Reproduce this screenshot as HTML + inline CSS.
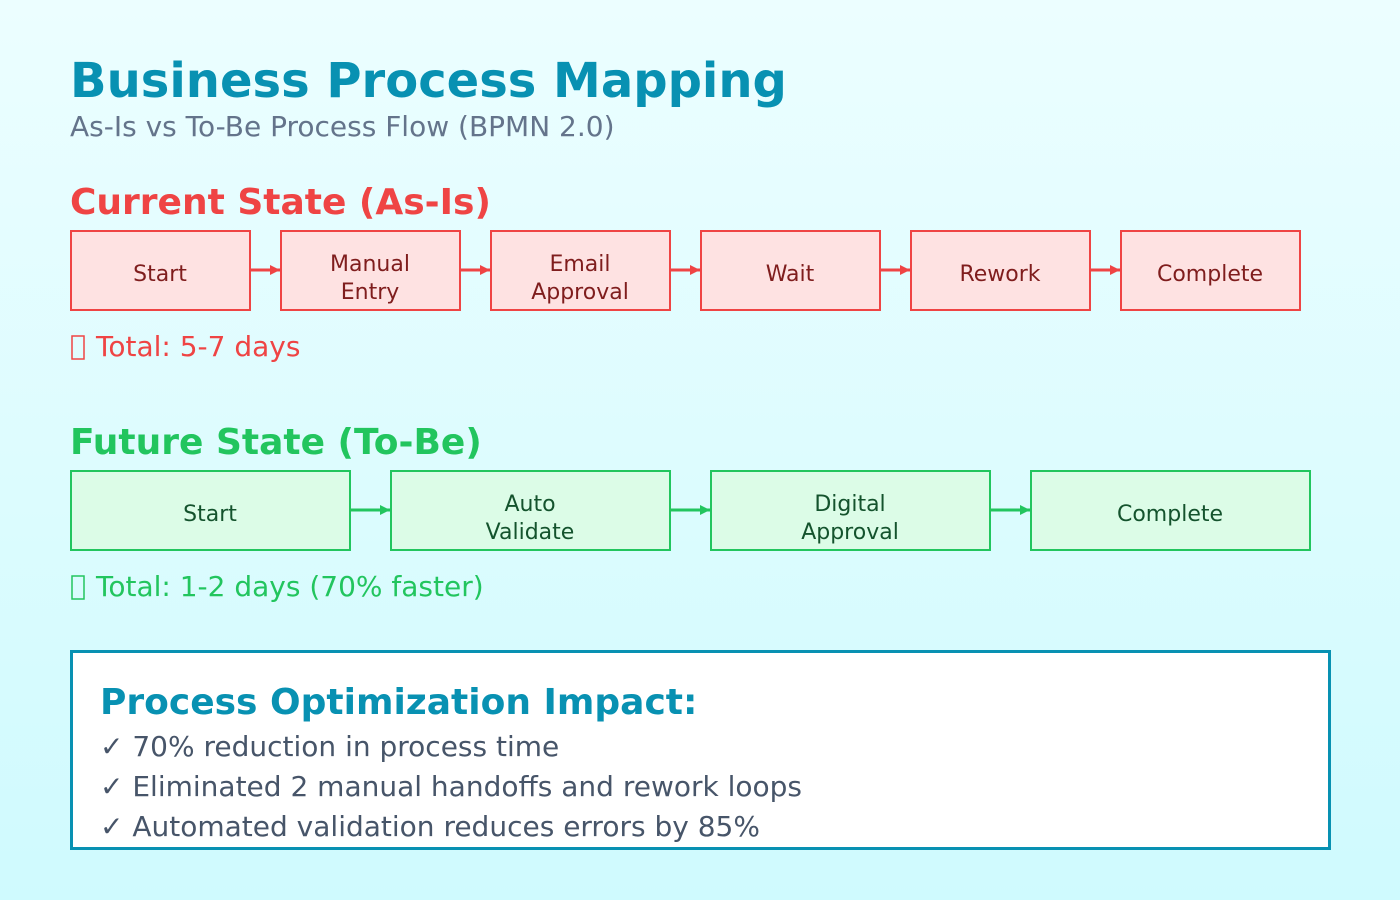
<!DOCTYPE html>
<html><head><meta charset="utf-8"><style>
html,body{margin:0;padding:0;width:1400px;height:900px;overflow:hidden}
svg{display:block}
text{font-family:"DejaVu Sans","Liberation Sans",sans-serif}
</style></head><body>
<svg width="1400" height="900" viewBox="0 0 1400 900" xmlns="http://www.w3.org/2000/svg">
<defs>
<linearGradient id="bg" x1="0" y1="0" x2="0" y2="1">
<stop offset="0" stop-color="#ecfeff"/><stop offset="1" stop-color="#cffafe"/>
</linearGradient>
<marker id="ar" markerWidth="10" markerHeight="10" refX="10" refY="5" orient="auto" markerUnits="userSpaceOnUse"><path d="M0,0 L10,5 L0,10 z" fill="#ef4444"/></marker>
<marker id="ag" markerWidth="10" markerHeight="10" refX="10" refY="5" orient="auto" markerUnits="userSpaceOnUse"><path d="M0,0 L10,5 L0,10 z" fill="#22c55e"/></marker>
</defs>
<rect width="1400" height="900" fill="url(#bg)"/>
<text x="70" y="97" font-size="48" font-weight="bold" fill="#0891b2">Business Process Mapping</text>
<text x="70" y="136" font-size="28" fill="#64748b">As-Is vs To-Be Process Flow (BPMN 2.0)</text>

<text x="70" y="214" font-size="36" font-weight="bold" fill="#ef4444">Current State (As-Is)</text>
<g stroke="#ef4444" stroke-width="2" fill="#fee2e2">
<rect x="71" y="231" width="179" height="79"/>
<rect x="281" y="231" width="179" height="79"/>
<rect x="491" y="231" width="179" height="79"/>
<rect x="701" y="231" width="179" height="79"/>
<rect x="911" y="231" width="179" height="79"/>
<rect x="1121" y="231" width="179" height="79"/>
</g>
<g stroke="#ef4444" stroke-width="3">
<line x1="251" y1="270" x2="280" y2="270" marker-end="url(#ar)"/>
<line x1="461" y1="270" x2="490" y2="270" marker-end="url(#ar)"/>
<line x1="671" y1="270" x2="700" y2="270" marker-end="url(#ar)"/>
<line x1="881" y1="270" x2="910" y2="270" marker-end="url(#ar)"/>
<line x1="1091" y1="270" x2="1120" y2="270" marker-end="url(#ar)"/>
</g>
<g font-size="22" fill="#7f1d1d" text-anchor="middle">
<text x="160" y="281">Start</text>
<text x="370" y="271">Manual</text><text x="370" y="299">Entry</text>
<text x="580" y="271">Email</text><text x="580" y="299">Approval</text>
<text x="790" y="281">Wait</text>
<text x="1000" y="281">Rework</text>
<text x="1210" y="281">Complete</text>
</g>
<rect x="72" y="336" width="12" height="23" fill="none" stroke="#ef4444" stroke-width="1.5"/>
<text x="96" y="356" font-size="28" fill="#ef4444">Total: 5-7 days</text>

<text x="70" y="454" font-size="36" font-weight="bold" fill="#22c55e">Future State (To-Be)</text>
<g stroke="#22c55e" stroke-width="2" fill="#dcfce7">
<rect x="71" y="471" width="279" height="79"/>
<rect x="391" y="471" width="279" height="79"/>
<rect x="711" y="471" width="279" height="79"/>
<rect x="1031" y="471" width="279" height="79"/>
</g>
<g stroke="#22c55e" stroke-width="3">
<line x1="351" y1="510" x2="390" y2="510" marker-end="url(#ag)"/>
<line x1="671" y1="510" x2="710" y2="510" marker-end="url(#ag)"/>
<line x1="991" y1="510" x2="1030" y2="510" marker-end="url(#ag)"/>
</g>
<g font-size="22" fill="#14532d" text-anchor="middle">
<text x="210" y="521">Start</text>
<text x="530" y="511">Auto</text><text x="530" y="539">Validate</text>
<text x="850" y="511">Digital</text><text x="850" y="539">Approval</text>
<text x="1170" y="521">Complete</text>
</g>
<rect x="72" y="576" width="12" height="23" fill="none" stroke="#22c55e" stroke-width="1.5"/>
<text x="96" y="596" font-size="28" fill="#22c55e">Total: 1-2 days (70% faster)</text>

<rect x="71.5" y="651.5" width="1258" height="197" fill="#ffffff" stroke="#0891b2" stroke-width="3"/>
<text x="100" y="714" font-size="36" font-weight="bold" fill="#0891b2">Process Optimization Impact:</text>
<g font-size="28" fill="#475569">
<text x="100" y="756">✓ 70% reduction in process time</text>
<text x="100" y="796">✓ Eliminated 2 manual handoffs and rework loops</text>
<text x="100" y="836">✓ Automated validation reduces errors by 85%</text>
</g>
</svg>
</body></html>
